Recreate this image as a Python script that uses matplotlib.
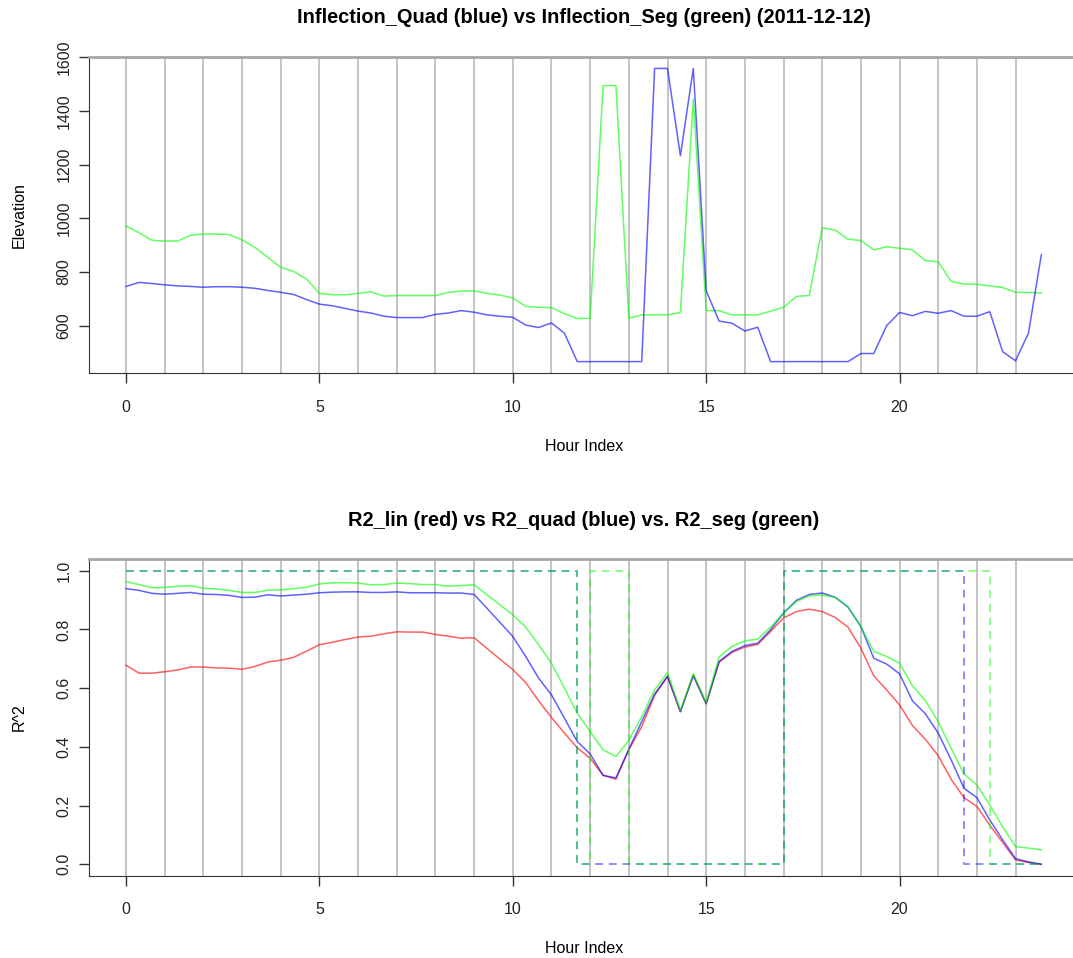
import matplotlib.pyplot as plt

plt.rcParams['font.family'] = ['Liberation Sans', 'DejaVu Sans']

# hour index in 20 minute steps
hour = [i / 3 for i in range(72)]

# elevation at the inflection point, quadratic fit vs segmented fit
infl_quad = [746, 761, 757, 752, 748, 746, 743, 745, 745, 743, 739, 731,
             724, 716, 697, 680, 674, 664, 654, 647, 635, 630, 630, 630,
             642, 647, 656, 650, 640, 635, 631, 602, 593, 610, 572, 466,
             466, 466, 466, 466, 466, 1558, 1558, 1233, 1558, 730, 617, 609,
             580, 594, 466, 466, 466, 466, 466, 466, 466, 496, 496, 600,
             649, 637, 653, 646, 656, 635, 635, 652, 503, 469, 572, 864]
infl_seg = [971, 946, 918, 915, 915, 937, 941, 941, 939, 919, 891, 854,
            817, 802, 773, 720, 715, 715, 720, 726, 710, 712, 712, 712,
            712, 724, 729, 729, 720, 714, 703, 672, 668, 667, 645, 626,
            627, 1494, 1494, 627, 640, 640, 640, 649, 1444, 656, 656, 640,
            640, 640, 654, 668, 709, 712, 965, 956, 922, 917, 882, 894,
            888, 882, 842, 838, 765, 755, 754, 748, 742, 724, 724, 721]

# goodness of fit for the three models
r2_lin = [0.678, 0.651, 0.651, 0.656, 0.662, 0.672, 0.672, 0.669, 0.668, 0.664, 0.674, 0.689,
          0.695, 0.705, 0.726, 0.748, 0.756, 0.766, 0.774, 0.777, 0.785, 0.792, 0.791, 0.791,
          0.783, 0.777, 0.770, 0.772, 0.735, 0.699, 0.663, 0.619, 0.557, 0.500, 0.447, 0.397,
          0.361, 0.303, 0.290, 0.390, 0.469, 0.575, 0.640, 0.520, 0.645, 0.547, 0.688, 0.722,
          0.740, 0.749, 0.793, 0.839, 0.861, 0.869, 0.861, 0.841, 0.808, 0.736, 0.642, 0.594,
          0.543, 0.473, 0.426, 0.370, 0.290, 0.227, 0.197, 0.133, 0.074, 0.015, 0.006, 0.000]
r2_quad = [0.939, 0.933, 0.923, 0.920, 0.923, 0.926, 0.920, 0.919, 0.916, 0.909, 0.910, 0.918,
           0.914, 0.917, 0.920, 0.925, 0.927, 0.928, 0.928, 0.926, 0.926, 0.928, 0.925, 0.925,
           0.925, 0.924, 0.924, 0.919, 0.872, 0.824, 0.776, 0.708, 0.634, 0.577, 0.498, 0.418,
           0.376, 0.303, 0.294, 0.392, 0.486, 0.580, 0.640, 0.520, 0.642, 0.547, 0.691, 0.725,
           0.745, 0.753, 0.799, 0.856, 0.899, 0.919, 0.924, 0.910, 0.876, 0.810, 0.702, 0.682,
           0.649, 0.557, 0.513, 0.447, 0.356, 0.259, 0.227, 0.151, 0.083, 0.019, 0.008, 0.000]
r2_seg = [0.963, 0.953, 0.942, 0.943, 0.947, 0.949, 0.940, 0.938, 0.933, 0.926, 0.926, 0.934,
          0.935, 0.939, 0.944, 0.955, 0.959, 0.959, 0.958, 0.952, 0.953, 0.958, 0.956, 0.953,
          0.953, 0.947, 0.950, 0.952, 0.918, 0.884, 0.850, 0.808, 0.748, 0.685, 0.600, 0.515,
          0.452, 0.390, 0.367, 0.422, 0.503, 0.594, 0.653, 0.524, 0.649, 0.551, 0.706, 0.742,
          0.761, 0.767, 0.808, 0.856, 0.895, 0.915, 0.917, 0.909, 0.878, 0.810, 0.725, 0.708,
          0.685, 0.608, 0.558, 0.486, 0.395, 0.308, 0.270, 0.202, 0.128, 0.060, 0.055, 0.049]

# 1 = fit accepted, 0 = rejected
quad_ok = [1, 1, 1, 1, 1, 1, 1, 1, 1, 1, 1, 1, 1, 1, 1, 1, 1, 1, 1, 1, 1, 1, 1, 1,
           1, 1, 1, 1, 1, 1, 1, 1, 1, 1, 1, 0, 0, 0, 0, 0, 0, 0, 0, 0, 0, 0, 0, 0,
           0, 0, 0, 1, 1, 1, 1, 1, 1, 1, 1, 1, 1, 1, 1, 1, 1, 0, 0, 0, 0, 0, 0, 0]
seg_ok = [1, 1, 1, 1, 1, 1, 1, 1, 1, 1, 1, 1, 1, 1, 1, 1, 1, 1, 1, 1, 1, 1, 1, 1,
          1, 1, 1, 1, 1, 1, 1, 1, 1, 1, 1, 0, 1, 1, 1, 0, 0, 0, 0, 0, 0, 0, 0, 0,
          0, 0, 0, 1, 1, 1, 1, 1, 1, 1, 1, 1, 1, 1, 1, 1, 1, 1, 1, 0, 0, 0, 0, 0]

RED = (1, 0, 0, 0.62)
BLUE = (0, 0, 1, 0.62)
GREEN = (0, 1, 0, 0.62)
TICK_SIZE = 11.5


def pad_range(*series):
    lo = min(min(s) for s in series)
    hi = max(max(s) for s in series)
    d = (hi - lo) * 0.04
    return lo - d, hi + d


def style_axes(ax, title, ylabel, yticks, ylabels):
    ax.set_xlim(pad_range(hour))
    for h in range(24):
        ax.axvline(h, color='#b4b4b4', lw=1.1, zorder=0)
    ax.spines['right'].set_visible(False)
    ax.spines['top'].set_color('#a6a6a6')
    ax.spines['top'].set_linewidth(2.0)
    ax.spines['left'].set_color('#333333')
    ax.spines['bottom'].set_color('#333333')
    ax.set_xticks([0, 5, 10, 15, 20])
    ax.set_yticks(yticks)
    ax.set_yticklabels(ylabels, rotation=90, va='center')
    ax.tick_params(length=7, width=1, color='#333333', labelsize=TICK_SIZE,
                   labelcolor='#222222')
    ax.tick_params(axis='x', pad=12)
    ax.tick_params(axis='y', pad=6)
    ax.set_title(title, fontsize=14.4, fontweight='bold', pad=24)
    ax.set_xlabel('Hour Index', fontsize=TICK_SIZE)
    ax.xaxis.set_label_coords(0.5, -0.23)
    ax.xaxis.label.set_va('center')
    ax.set_ylabel(ylabel, fontsize=TICK_SIZE)
    ax.yaxis.set_label_coords(-0.071, 0.5)
    ax.yaxis.label.set_va('center')


fig = plt.figure(figsize=(10.73, 9.58), dpi=100)

# Inflection point elevation
ax1 = fig.add_axes([0.0834, 0.6103, 0.9212, 0.3305])
ax1.plot(hour, infl_seg, color=GREEN, lw=1.1)
ax1.plot(hour, infl_quad, color=BLUE, lw=1.1)
ax1.set_ylim(pad_range(infl_quad, infl_seg))
style_axes(ax1, 'Inflection_Quad (blue) vs Inflection_Seg (green) (2011-12-12)',
           'Elevation', [600, 800, 1000, 1200, 1400, 1600],
           ['600', '800', '1000', '1200', '1400', '1600'])

# R^2 of the three fits, plus the accept flags as dashed steps
ax2 = fig.add_axes([0.0834, 0.0856, 0.9212, 0.3309])
ax2.plot(hour, r2_lin, color=RED, lw=1.1)
ax2.plot(hour, r2_quad, color=BLUE, lw=1.1)
ax2.plot(hour, r2_seg, color=GREEN, lw=1.1)
ax2.plot(hour, quad_ok, color=(0, 0, 1, 0.45), lw=1.4, ls=(0, (4, 3)),
         drawstyle='steps-post')
ax2.plot(hour, seg_ok, color=(0, 1, 0, 0.45), lw=1.4, ls=(0, (4, 3)),
         drawstyle='steps-post')
ax2.set_ylim(pad_range([0.0, 1.0]))
style_axes(ax2, 'R2_lin (red) vs R2_quad (blue) vs. R2_seg (green)', 'R^2',
           [0.0, 0.2, 0.4, 0.6, 0.8, 1.0],
           ['0.0', '0.2', '0.4', '0.6', '0.8', '1.0'])

fig.savefig('out.png', dpi=100)
